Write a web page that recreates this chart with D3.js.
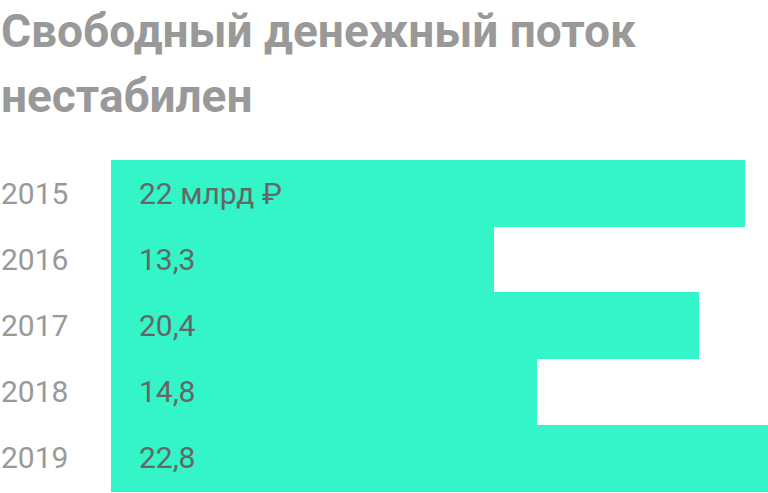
<!DOCTYPE html>
<html>
<head>
<meta charset="utf-8">
<script src="https://cdn.jsdelivr.net/npm/d3@7"></script>
<style>
  body { margin: 0; background: #fff; }
  svg { display: block; font-family: Roboto, sans-serif; }
</style>
</head>
<body>
<script>
// Data
const years = ['2015', '2016', '2017', '2018', '2019']
const values = [22, 13.3, 20.4, 14.8, 22.8]
const valueLabels = ['22 млрд ₽', '13,3', '20,4', '14,8', '22,8']
const titleLines = ['Свободный денежный поток', 'нестабилен']

const width = 768, height = 493
const margin = { top: 160, left: 111, right: 0, bottom: 2 }

const svg = d3.select('body').append('svg')
    .attr('width', width)
    .attr('height', height)

// Title
svg.selectAll('text.title')
    .data(titleLines)
    .enter().append('text')
        .attr('class', 'title')
        .attr('x', 1)
        .attr('y', (d, i) => 47 + i * 65)
        .attr('fill', '#999')
        .attr('font-weight', 700)
        .attr('font-size', 46)
        .text(d => d)

// Scales
const x = d3.scaleLinear()
    .domain([0, d3.max(values)])
    .range([margin.left, width - margin.right])

const y = d3.scaleBand()
    .domain(years)
    .range([margin.top, height - margin.bottom])
    .padding(0)

// Bars (crispEdges so no seams between touching bars)
svg.selectAll('rect')
    .data(values)
    .enter().append('rect')
        .attr('x', x(0))
        .attr('y', (d, i) => y(years[i]))
        .attr('width', d => x(d) - x(0))
        .attr('height', y.bandwidth() + 0.5)
        .attr('fill', '#33f5c8')
        .attr('shape-rendering', 'crispEdges')

// Year labels
svg.selectAll('text.year')
    .data(years)
    .enter().append('text')
        .attr('class', 'year')
        .attr('x', 1)
        .attr('y', d => y(d) + y.bandwidth() / 2)
        .attr('dy', '0.35em')
        .attr('fill', '#999')
        .attr('font-size', 30)
        .text(d => d)

// Value labels
svg.selectAll('text.value')
    .data(valueLabels)
    .enter().append('text')
        .attr('class', 'value')
        .attr('x', 139)
        .attr('y', (d, i) => y(years[i]) + y.bandwidth() / 2)
        .attr('dy', '0.35em')
        .attr('fill', '#666')
        .attr('font-size', 30)
        .text(d => d)
</script>
</body>
</html>
